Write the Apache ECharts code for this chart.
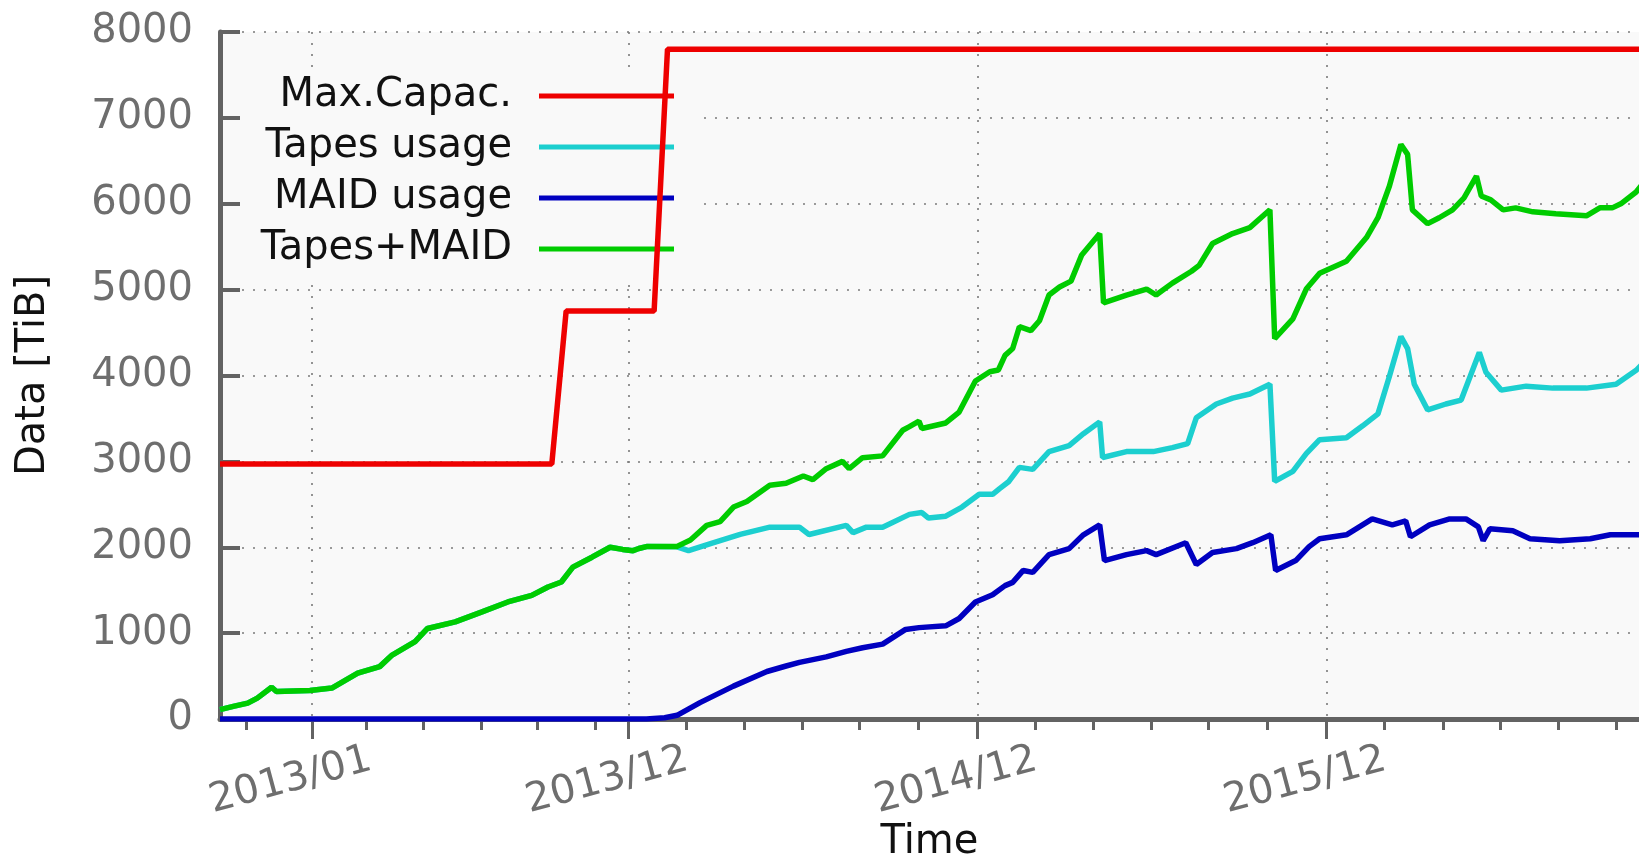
<!DOCTYPE html>
<html>
<head>
<meta charset="utf-8">
<script src="https://cdn.jsdelivr.net/npm/echarts@6/dist/echarts.min.js"></script>
<style>
html,body{margin:0;padding:0;background:#ffffff;}
#chart{width:1639px;height:857px;}
</style>
</head>
<body>
<div id="chart"></div>
<script>
// ---------- data ----------
const seriesNames = ['Max.Capac.', 'Tapes usage', 'MAID usage', 'Tapes+MAID'];
const seriesColors = ['#ee0000', '#1ccfcf', '#0000c0', '#00cc00'];

const maxCapacity = [
  ['2012-09-30', 2970], ['2013-09-12', 2970], ['2013-09-27', 4750],
  ['2013-12-28', 4750], ['2014-01-11', 7800], ['2016-10-28', 7800]
];

const tapesUsage = [
  ['2012-09-30', 110], ['2012-10-15', 150], ['2012-10-29', 185], ['2012-11-08', 243],
  ['2012-11-23', 370], ['2012-11-28', 320], ['2013-01-02', 332], ['2013-01-25', 360],
  ['2013-02-21', 533], ['2013-03-16', 610], ['2013-03-29', 745], ['2013-04-22', 900],
  ['2013-05-05', 1054], ['2013-06-03', 1131], ['2013-07-01', 1247], ['2013-07-28', 1363],
  ['2013-08-22', 1440], ['2013-09-08', 1537], ['2013-09-22', 1595], ['2013-10-04', 1768],
  ['2013-10-24', 1884], ['2013-11-12', 2000], ['2013-11-25', 1975], ['2013-12-06', 1960],
  ['2013-12-12', 1985], ['2013-12-21', 2010], ['2014-01-21', 2005], ['2014-02-02', 1960],
  ['2014-02-25', 2043], ['2014-03-28', 2149], ['2014-04-28', 2234], ['2014-05-29', 2234],
  ['2014-06-08', 2149], ['2014-07-17', 2255], ['2014-07-24', 2170], ['2014-08-07', 2234],
  ['2014-08-24', 2234], ['2014-09-21', 2383], ['2014-10-04', 2404], ['2014-10-11', 2340],
  ['2014-10-29', 2362], ['2014-11-15', 2468], ['2014-12-03', 2617], ['2014-12-17', 2617],
  ['2014-12-24', 2680], ['2015-01-03', 2766], ['2015-01-14', 2930], ['2015-01-28', 2907],
  ['2015-02-14', 3114], ['2015-03-07', 3184], ['2015-03-22', 3322], ['2015-04-08', 3460],
  ['2015-04-11', 3045], ['2015-05-06', 3114], ['2015-06-03', 3114], ['2015-06-23', 3160],
  ['2015-07-09', 3207], ['2015-07-18', 3507], ['2015-08-08', 3668], ['2015-08-25', 3737],
  ['2015-09-12', 3784], ['2015-10-03', 3899], ['2015-10-08', 2768], ['2015-10-27', 2884],
  ['2015-11-10', 3091], ['2015-11-24', 3253], ['2015-12-22', 3276], ['2016-01-08', 3414],
  ['2016-01-24', 3553], ['2016-02-05', 3991], ['2016-02-17', 4453], ['2016-02-24', 4314],
  ['2016-03-02', 3899], ['2016-03-16', 3599], ['2016-04-04', 3668], ['2016-04-20', 3714],
  ['2016-05-09', 4268], ['2016-05-16', 4037], ['2016-06-01', 3830], ['2016-06-27', 3876],
  ['2016-07-25', 3853], ['2016-08-29', 3853], ['2016-09-29', 3899], ['2016-10-20', 4060],
  ['2016-10-28', 4150]
];

const maidUsage = [
  ['2012-09-30', 0], ['2013-12-20', 0], ['2014-01-08', 15], ['2014-01-21', 43],
  ['2014-02-14', 191], ['2014-03-21', 383], ['2014-04-25', 553], ['2014-05-15', 617],
  ['2014-05-29', 660], ['2014-06-26', 723], ['2014-07-17', 787], ['2014-08-03', 830],
  ['2014-08-24', 872], ['2014-09-17', 1043], ['2014-10-01', 1064], ['2014-10-29', 1085],
  ['2014-11-12', 1170], ['2014-11-29', 1362], ['2014-12-17', 1447], ['2014-12-30', 1553],
  ['2015-01-07', 1591], ['2015-01-18', 1730], ['2015-01-28', 1707], ['2015-02-14', 1914],
  ['2015-03-07', 1984], ['2015-03-22', 2145], ['2015-04-08', 2261], ['2015-04-13', 1845],
  ['2015-05-06', 1914], ['2015-05-27', 1961], ['2015-06-06', 1914], ['2015-07-07', 2053],
  ['2015-07-18', 1799], ['2015-08-04', 1938], ['2015-08-29', 1984], ['2015-09-15', 2053],
  ['2015-10-04', 2145], ['2015-10-09', 1730], ['2015-10-30', 1845], ['2015-11-13', 2007],
  ['2015-11-24', 2099], ['2015-12-22', 2145], ['2016-01-18', 2330], ['2016-02-08', 2261],
  ['2016-02-22', 2307], ['2016-02-27', 2122], ['2016-03-18', 2261], ['2016-04-08', 2330],
  ['2016-04-25', 2330], ['2016-05-08', 2238], ['2016-05-13', 2076], ['2016-05-20', 2215],
  ['2016-06-13', 2191], ['2016-07-01', 2099], ['2016-08-01', 2076], ['2016-09-02', 2099],
  ['2016-09-23', 2145], ['2016-10-20', 2145], ['2016-10-28', 2150]
];

const tapesPlusMaid = [
  ['2012-09-30', 110], ['2012-10-15', 150], ['2012-10-29', 185], ['2012-11-08', 243],
  ['2012-11-23', 370], ['2012-11-28', 320], ['2013-01-02', 332], ['2013-01-25', 360],
  ['2013-02-21', 533], ['2013-03-16', 610], ['2013-03-29', 745], ['2013-04-22', 900],
  ['2013-05-05', 1054], ['2013-06-03', 1131], ['2013-07-01', 1247], ['2013-07-28', 1363],
  ['2013-08-22', 1440], ['2013-09-08', 1537], ['2013-09-22', 1595], ['2013-10-04', 1768],
  ['2013-10-24', 1884], ['2013-11-12', 2000], ['2013-11-25', 1975], ['2013-12-06', 1960],
  ['2013-12-12', 1985], ['2013-12-21', 2010], ['2014-01-21', 2010], ['2014-02-04', 2085],
  ['2014-02-21', 2255], ['2014-03-07', 2298], ['2014-03-21', 2468], ['2014-04-04', 2532],
  ['2014-04-28', 2723], ['2014-05-15', 2745], ['2014-06-02', 2830], ['2014-06-12', 2787],
  ['2014-06-26', 2915], ['2014-07-13', 3000], ['2014-07-20', 2915], ['2014-08-03', 3043],
  ['2014-08-24', 3064], ['2014-09-14', 3362], ['2014-09-21', 3404], ['2014-10-01', 3468],
  ['2014-10-04', 3383], ['2014-10-29', 3447], ['2014-11-12', 3574], ['2014-11-29', 3936],
  ['2014-12-14', 4043], ['2014-12-23', 4064], ['2014-12-30', 4234], ['2015-01-07', 4314],
  ['2015-01-14', 4568], ['2015-01-26', 4522], ['2015-02-04', 4637], ['2015-02-14', 4937],
  ['2015-02-25', 5030], ['2015-03-09', 5099], ['2015-03-20', 5399], ['2015-04-08', 5653],
  ['2015-04-12', 4845], ['2015-05-06', 4937], ['2015-05-27', 5007], ['2015-06-06', 4937],
  ['2015-06-23', 5076], ['2015-07-13', 5214], ['2015-07-21', 5283], ['2015-08-04', 5537],
  ['2015-08-25', 5653], ['2015-09-12', 5722], ['2015-10-03', 5930], ['2015-10-08', 4430],
  ['2015-10-27', 4660], ['2015-11-10', 5007], ['2015-11-24', 5191], ['2015-12-22', 5330],
  ['2016-01-12', 5606], ['2016-01-24', 5837], ['2016-02-05', 6206], ['2016-02-17', 6691],
  ['2016-02-24', 6575], ['2016-02-29', 5929], ['2016-03-16', 5768], ['2016-03-28', 5837],
  ['2016-04-11', 5929], ['2016-04-23', 6068], ['2016-05-06', 6322], ['2016-05-11', 6091],
  ['2016-05-21', 6045], ['2016-06-03', 5929], ['2016-06-16', 5952], ['2016-07-04', 5906],
  ['2016-07-28', 5883], ['2016-08-29', 5860], ['2016-09-12', 5952], ['2016-09-25', 5952],
  ['2016-10-04', 5999], ['2016-10-20', 6137], ['2016-10-28', 6250]
];

const majorTickDates = ['2013-01-04', '2013-12-01', '2014-12-01', '2015-12-01'];
const majorTickLabels = ['2013/01', '2013/12', '2014/12', '2015/12'];
const minorTickDates = [
  '2012-10-27', '2013-03-02', '2013-05-01', '2013-06-30', '2013-08-28', '2013-10-27',
  '2014-01-31', '2014-04-01', '2014-06-01', '2014-07-31', '2014-09-30',
  '2015-01-31', '2015-04-01', '2015-06-01', '2015-07-31', '2015-09-30',
  '2016-01-31', '2016-04-01', '2016-05-31', '2016-07-31', '2016-09-29'
];
const xRange = ['2012-09-30', '2016-10-23'];
const yRange = [0, 8000];
const yStep = 1000;

// ---------- helpers ----------
function ts(s) {
  const p = s.split('-').map(Number);
  return Date.UTC(p[0], p[1] - 1, p[2]);
}
const toPts = arr => arr.map(p => [ts(p[0]), p[1]]);
const majorTs = majorTickDates.map(ts);
const minorTs = minorTickDates.map(ts);

const FONT = 'DejaVu Sans';
const AXIS_COLOR = '#636363';
const LABEL_COLOR = '#6e6e6e';
const gridDash = { type: [2, 9], color: '#7a7a7a', width: 1.6 };

const allData = [maxCapacity, tapesUsage, maidUsage, tapesPlusMaid];

const chart = echarts.init(document.getElementById('chart'), null, { renderer: 'canvas' });
const option = {
  animation: false,
  backgroundColor: '#ffffff',
  textStyle: { fontFamily: FONT },
  grid: {
    left: 220, right: 0, top: 32, bottom: 138,
    show: true, backgroundColor: '#f9f9f9', borderWidth: 0,
    containLabel: false, outerBoundsMode: 'none'
  },
  legend: {
    orient: 'vertical',
    right: 940,
    top: 72,
    align: 'right',
    icon: 'rect',
    itemWidth: 135,
    itemHeight: 5,
    itemGap: 11,
    padding: [4, 25, 12, 20],
    backgroundColor: '#f9f9f9',
    z: 1,
    selectedMode: false,
    textStyle: { fontFamily: FONT, fontSize: 40, color: '#111', lineHeight: 40, padding: [0, 22, 0, 0] },
    data: seriesNames
  },
  xAxis: [
    {
      type: 'value',
      min: ts(xRange[0]), max: ts(xRange[1]),
      name: 'Time', nameLocation: 'middle', nameGap: 104, nameMoveOverlap: false,
      nameTextStyle: { fontFamily: FONT, fontSize: 40, color: '#111' },
      axisLine: { show: true, onZero: false, lineStyle: { color: AXIS_COLOR, width: 5 } },
      axisTick: { show: true, customValues: majorTs, length: 20, lineStyle: { color: AXIS_COLOR, width: 3 } },
      axisLabel: {
        show: true, customValues: majorTs, rotate: 15, align: 'center', verticalAlign: 'middle',
        margin: 56, fontSize: 40, color: LABEL_COLOR, fontFamily: FONT, padding: [0, 44, 0, 0],
        hideOverlap: false,
        formatter: function (v) {
          let best = 0, bd = Infinity;
          majorTs.forEach((t, i) => { const d = Math.abs(t - v); if (d < bd) { bd = d; best = i; } });
          return majorTickLabels[best];
        }
      },
      splitLine: { show: true, lineStyle: gridDash },
      minorTick: { show: false }
    },
    {
      type: 'value',
      min: ts(xRange[0]), max: ts(xRange[1]),
      position: 'bottom', offset: 0,
      axisLine: { show: false, onZero: false },
      axisTick: { show: true, customValues: minorTs, length: 11, lineStyle: { color: AXIS_COLOR, width: 3 } },
      axisLabel: { show: false },
      splitLine: { show: false }
    }
  ],
  yAxis: {
    type: 'value',
    min: yRange[0], max: yRange[1], interval: yStep,
    name: 'Data [TiB]', nameLocation: 'middle', nameRotate: 90, nameGap: 166, nameMoveOverlap: false,
    nameTextStyle: { fontFamily: FONT, fontSize: 40, color: '#111' },
    axisLine: { show: true, lineStyle: { color: AXIS_COLOR, width: 5 } },
    axisTick: { show: true, inside: true, length: 20, lineStyle: { color: AXIS_COLOR, width: 4 } },
    axisLabel: { fontSize: 40, color: LABEL_COLOR, margin: 27, fontFamily: FONT, formatter: v => String(v) },
    splitLine: { show: true, lineStyle: gridDash }
  },
  series: seriesNames.map((name, i) => ({
    name: name,
    type: 'line',
    xAxisIndex: 0,
    data: toPts(allData[i]),
    showSymbol: false,
    symbol: 'none',
    clip: true,
    lineStyle: { color: seriesColors[i], width: 5.5 },
    itemStyle: { color: seriesColors[i] },
    emphasis: { disabled: true },
    z: 3 + i
  }))
};
chart.setOption(option);
</script>
</body>
</html>
